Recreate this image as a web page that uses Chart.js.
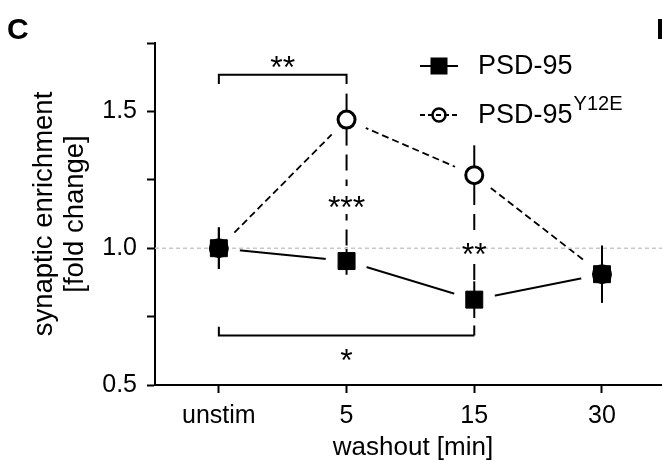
<!DOCTYPE html>
<html><head><meta charset="utf-8">
<script src="https://cdn.jsdelivr.net/npm/chart.js@4/dist/chart.umd.min.js"></script>
<style>html,body{margin:0;padding:0;background:#fff;}#wrap{position:relative;width:662px;height:461px;}</style>
</head><body><div id="wrap"><canvas id="c" width="662" height="461"></canvas></div>
<script>
// ---- data ----
const categories = ['unstim', '5', '15', '30'];
const psd95 = [1.0, 0.953, 0.812, 0.905];
const psd95Err = [0.076, 0.05, 0.067, 0.09];
const y12e = [1.0, 1.47, 1.267, 0.905];
const y12eErr = [0.076, 0.095, 0.109, 0.105];
const seriesNames = ['PSD-95', 'PSD-95'];
const seriesSup = ['', 'Y12E'];
const yTickValues = [0.5, 0.75, 1.0, 1.25, 1.5, 1.75];
const yTickLabels = ['0.5', '', '1.0', '', '1.5', ''];
const xTitle = 'washout [min]';
const yTitle = ['synaptic enrichment', '[fold change]'];
// significance: horizontal brackets (category index range, level, end tick level)
const brackets = [
  { from: 0, to: 1, level: 1.634, tickTo: 1.600, label: '**', labelAt: 1.689 },
  { from: 0, to: 2, level: 0.681, tickTo: 0.713, label: '*', labelAt: 0.617 }
];
// vertical comparisons between the two series at one category
const verticals = [
  { at: 1, label: '***', labelAt: 1.176 },
  { at: 2, label: '**', labelAt: 1.005 }
];

const FONT = "'Liberation Sans', Arial, Helvetica, sans-serif";
const pts = arr => arr.map((v, i) => ({ x: i, y: v }));

const overlay = {
  id: 'overlay',
  afterDatasetDraw(chart, args) {
    const ds = chart.data.datasets[args.index];
    if (ds.id !== 'halo') return;
    const ctx = chart.ctx, xs = chart.scales.x, ys = chart.scales.y, ca = chart.chartArea;
    ctx.save();
    // error bars
    ctx.strokeStyle = '#000'; ctx.lineWidth = 2;
    [[psd95, psd95Err], [y12e, y12eErr]].forEach(([v, e]) => {
      v.forEach((val, i) => {
        const x = xs.getPixelForValue(i);
        ctx.beginPath();
        ctx.moveTo(x, ys.getPixelForValue(val + e[i]));
        ctx.lineTo(x, ys.getPixelForValue(val - e[i]));
        ctx.stroke();
      });
    });
    const SS = 32;
    const star = (txt, x, yv) => {
      ctx.font = SS + 'px ' + FONT; ctx.textAlign = 'center'; ctx.textBaseline = 'alphabetic';
      ctx.fillStyle = '#000';
      ctx.fillText(txt, x, ys.getPixelForValue(yv) + SS * 0.57);
    };
    // vertical comparisons (dashed)
    verticals.forEach(c => {
      const x = xs.getPixelForValue(c.at);
      const yTop = ys.getPixelForValue(y12e[c.at] - y12eErr[c.at]);
      const yBot = ys.getPixelForValue(psd95[c.at] + psd95Err[c.at]);
      ctx.strokeStyle = '#000'; ctx.lineWidth = 2; ctx.setLineDash([16, 9]); ctx.lineDashOffset = -9;
      ctx.beginPath(); ctx.moveTo(x, yTop); ctx.lineTo(x, yBot); ctx.stroke();
      ctx.setLineDash([]); ctx.lineDashOffset = 0;
      const ly = ys.getPixelForValue(c.labelAt);
      ctx.fillStyle = '#fff'; ctx.fillRect(x - 3, ly - 14, 6, 28);
    });
    // reference line at 1.0
    ctx.strokeStyle = '#c9c9c9'; ctx.lineWidth = 1.5; ctx.setLineDash([4, 3]);
    ctx.beginPath(); ctx.moveTo(ca.left, ys.getPixelForValue(1)); ctx.lineTo(662, ys.getPixelForValue(1)); ctx.stroke();
    ctx.setLineDash([]);
    verticals.forEach(c => star(c.label, xs.getPixelForValue(c.at), c.labelAt));
    // brackets
    brackets.forEach((b, k) => {
      const x1 = xs.getPixelForValue(b.from), x2 = xs.getPixelForValue(b.to);
      const yl = ys.getPixelForValue(b.level), yt = ys.getPixelForValue(b.tickTo);
      ctx.strokeStyle = '#000'; ctx.lineWidth = 2;
      ctx.beginPath();
      ctx.moveTo(x1, yt); ctx.lineTo(x1, yl); ctx.lineTo(x2, yl);
      if (k === 0) ctx.lineTo(x2, yt);
      ctx.stroke();
      if (k === 1) {
        ctx.setLineDash([10, 9]); ctx.lineDashOffset = 0;
        ctx.beginPath(); ctx.moveTo(x2, yl); ctx.lineTo(x2, ys.getPixelForValue(psd95[b.to] - psd95Err[b.to])); ctx.stroke();
        ctx.setLineDash([]);
      }
      star(b.label, xs.getPixelForValue((b.from + b.to) / 2), b.labelAt);
    });
    ctx.restore();
  },
  afterDraw(chart) {
    const ctx = chart.ctx, ca = chart.chartArea;
    ctx.save();
    ctx.fillStyle = '#000';
    // panel letters
    ctx.font = 'bold 30px ' + FONT; ctx.textAlign = 'left'; ctx.textBaseline = 'alphabetic';
    ctx.fillText('C', 7, 39);
    ctx.fillText('D', 656, 39);
    // axis titles
    ctx.font = '26px ' + FONT; ctx.textAlign = 'center'; ctx.textBaseline = 'alphabetic';
    ctx.fillText(xTitle, 413, 455);
    ctx.save();
    ctx.translate(0, (ca.top + ca.bottom) / 2);
    ctx.rotate(-Math.PI / 2);
    ctx.font = '27.5px ' + FONT;
    ctx.fillText(yTitle[0], 0, 52);
    ctx.fillText(yTitle[1], 0, 83);
    ctx.restore();
    // legend
    const rows = [66, 115];
    // row 1: solid line + square
    ctx.strokeStyle = '#000'; ctx.lineWidth = 2;
    ctx.beginPath(); ctx.moveTo(420, rows[0]); ctx.lineTo(458, rows[0]); ctx.stroke();
    ctx.fillRect(430.5, rows[0] - 8.5, 17, 17);
    // row 2: dashed line + open circle
    ctx.lineWidth = 1.8; ctx.setLineDash([5, 3]);
    ctx.beginPath(); ctx.moveTo(420, rows[1]); ctx.lineTo(458, rows[1]); ctx.stroke();
    ctx.setLineDash([]); ctx.lineWidth = 2.5;
    ctx.beginPath(); ctx.arc(439, rows[1], 6.5, 0, Math.PI * 2); ctx.stroke();
    ctx.textAlign = 'left'; ctx.textBaseline = 'middle';
    seriesNames.forEach((n, i) => {
      ctx.font = '27px ' + FONT;
      ctx.fillText(n, 478, rows[i] + 1);
      if (seriesSup[i]) {
        const w = ctx.measureText(n).width;
        ctx.font = '20px ' + FONT;
        ctx.fillText(seriesSup[i], 478 + w + 1, rows[i] - 11);
      }
    });
    ctx.restore();
  }
};

const axisCommon = {
  border: { display: true, color: '#000', width: 2 },
  grid: { display: true, drawOnChartArea: false, drawTicks: true, tickLength: 8, tickColor: '#000', tickWidth: 2 },
  ticks: { color: '#000', font: { family: FONT, size: 25 } }
};

new Chart(document.getElementById('c'), {
  type: 'line',
  data: {
    datasets: [
      { id: 'psdMarkers', data: pts(psd95), showLine: false, pointStyle: 'rect', pointRadius: 12, pointBackgroundColor: '#000', pointBorderColor: '#000', pointBorderWidth: 1, order: 1 },
      { id: 'y12eMarkers', data: pts(y12e), showLine: false, pointStyle: 'circle', pointRadius: 8.5, pointBackgroundColor: '#fff', pointBorderColor: '#000', pointBorderWidth: 3, order: 2 },
      { id: 'halo', data: pts(psd95).concat(pts(y12e)), showLine: false, pointStyle: 'circle', pointRadius: 21, pointBackgroundColor: '#fff', pointBorderWidth: 0, order: 3 },
      { id: 'psdLine', data: pts(psd95), borderColor: '#000', borderWidth: 2, pointRadius: 0, tension: 0, order: 4 },
      { id: 'y12eLine', data: pts(y12e), borderColor: '#000', borderWidth: 1.8, borderDash: [7, 4], pointRadius: 0, tension: 0, order: 5 }
    ]
  },
  options: {
    responsive: false, animation: false, devicePixelRatio: 1,
    layout: { autoPadding: false, padding: { left: 0, top: 43, right: 0, bottom: 0 } },
    plugins: { legend: { display: false }, tooltip: { enabled: false } },
    events: [],
    scales: {
      x: Object.assign({}, axisCommon, {
        type: 'linear', min: -0.5, max: 3.47,
        afterBuildTicks: s => { s.ticks = categories.map((c, i) => ({ value: i })); },
        afterFit: s => { s.height = 76; s.paddingLeft = 0; s.paddingRight = 0; },
        ticks: Object.assign({}, axisCommon.ticks, { padding: 8, autoSkip: false, maxRotation: 0, callback: v => categories[v] })
      }),
      y: Object.assign({}, axisCommon, {
        type: 'linear', min: 0.5, max: 1.75,
        afterBuildTicks: s => { s.ticks = yTickValues.map(v => ({ value: v })); },
        afterFit: s => { s.width = 155; s.paddingTop = 0; s.paddingBottom = 0; },
        ticks: Object.assign({}, axisCommon.ticks, { padding: 10, callback: v => yTickLabels[yTickValues.indexOf(v)] })
      })
    }
  },
  plugins: [overlay]
});
</script></body></html>
